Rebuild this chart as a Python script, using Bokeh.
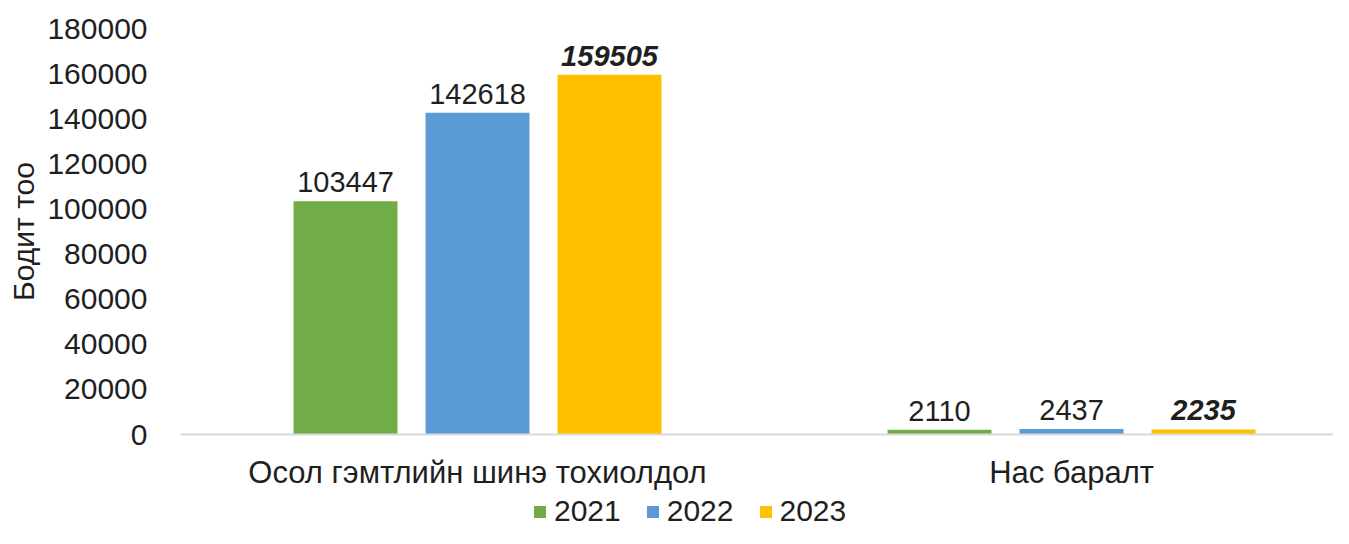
from bokeh.plotting import figure
from bokeh.layouts import column
from bokeh.models import Range1d, ColumnDataSource, Legend, LegendItem, FixedTicker, BasicTickFormatter
from bokeh.core.properties import value
from bokeh.embed import file_html
from bokeh.resources import INLINE

categories = ["Осол гэмтлийн шинэ тохиолдол", "Нас баралт"]
years = ["2021", "2022", "2023"]
v2021 = [103447, 2110]
v2022 = [142618, 2437]
v2023 = [159505, 2235]
colors = ["#70AD47", "#5B9BD5", "#FFC000"]
yticks = [0, 20000, 40000, 60000, 80000, 100000, 120000, 140000, 160000, 180000]

FONT = "Liberation Sans"
TXT = "#1f1f1f"
FS = "30px"

p = figure(width=1333, height=494, output_backend="svg", toolbar_location=None,
           x_range=Range1d(0, 1.941), y_range=Range1d(0, 180000),
           min_border_left=180, min_border_right=0, min_border_top=28,
           min_border_bottom=60)
p.outline_line_color = None
p.xgrid.grid_line_color = None
p.ygrid.grid_line_color = None

offsets = [-0.2222, 0.0, 0.2222]
series = [v2021, v2022, v2023]
centers = [i + 0.5 for i in range(len(categories))]
for yr, vals, col, off in zip(years, series, colors, offsets):
    xs = [c + off for c in centers]
    src = ColumnDataSource(dict(x=xs, top=vals, lab=[str(v) for v in vals]))
    p.vbar(x="x", top="top", width=0.175, source=src, fill_color=col, line_color=None)
    p.text(x="x", y="top", text="lab", source=src, y_offset=-19,
           text_align="center", text_baseline="alphabetic",
           text_font=value(FONT), text_font_size="29px", text_color=TXT,
           text_font_style="bold italic" if yr == "2023" else "normal")

p.xaxis.ticker = FixedTicker(ticks=centers)
p.xaxis.major_label_overrides = {c: lab for c, lab in zip(centers, categories)}
p.xaxis.major_tick_line_color = None
p.xaxis.minor_tick_line_color = None
p.xaxis.axis_line_color = "#D9D9D9"
p.xaxis.axis_line_width = 2
p.xaxis.major_label_text_font = FONT
p.xaxis.major_label_text_font_size = "31px"
p.xaxis.major_label_text_color = TXT
p.xaxis.major_label_standoff = 14

p.yaxis.ticker = FixedTicker(ticks=yticks)
p.yaxis.formatter = BasicTickFormatter(use_scientific=False)
p.yaxis.axis_line_color = None
p.yaxis.major_tick_line_color = None
p.yaxis.minor_tick_line_color = None
p.yaxis.major_label_text_font = FONT
p.yaxis.major_label_text_font_size = FS
p.yaxis.major_label_text_color = TXT
p.yaxis.major_label_standoff = 27
p.yaxis.axis_label = "Бодит тоо"
p.yaxis.axis_label_text_font = FONT
p.yaxis.axis_label_text_font_size = FS
p.yaxis.axis_label_text_font_style = "normal"
p.yaxis.axis_label_text_color = TXT
p.yaxis.axis_label_standoff = 4

# legend strip (frame is aligned with main frame by the column layout)
lg = figure(width=1333, height=34, output_backend="svg", toolbar_location=None,
            x_range=Range1d(0, 1), y_range=Range1d(0, 1),
            x_axis_location=None, y_axis_location=None,
            min_border_left=0, min_border_right=0, min_border_top=0, min_border_bottom=0)
lg.outline_line_color = None
lg.xgrid.grid_line_color = None
lg.ygrid.grid_line_color = None
items = []
for yr, col in zip(years, colors):
    r = lg.vbar(x=[-10], top=[-10], width=0.1, fill_color=col, line_color=None)
    items.append(LegendItem(label=yr, renderers=[r]))
legend = Legend(items=items, orientation="horizontal", location=(352, 0),
                label_text_font=FONT, label_text_font_size=FS,
                label_text_color=TXT, glyph_width=15, glyph_height=15,
                spacing=24, label_standoff=7, border_line_color=None,
                background_fill_alpha=0, padding=0, margin=0, label_height=30)
lg.add_layout(legend, "center")

open("out.html", "w").write(file_html(column(p, lg, spacing=0), INLINE))
